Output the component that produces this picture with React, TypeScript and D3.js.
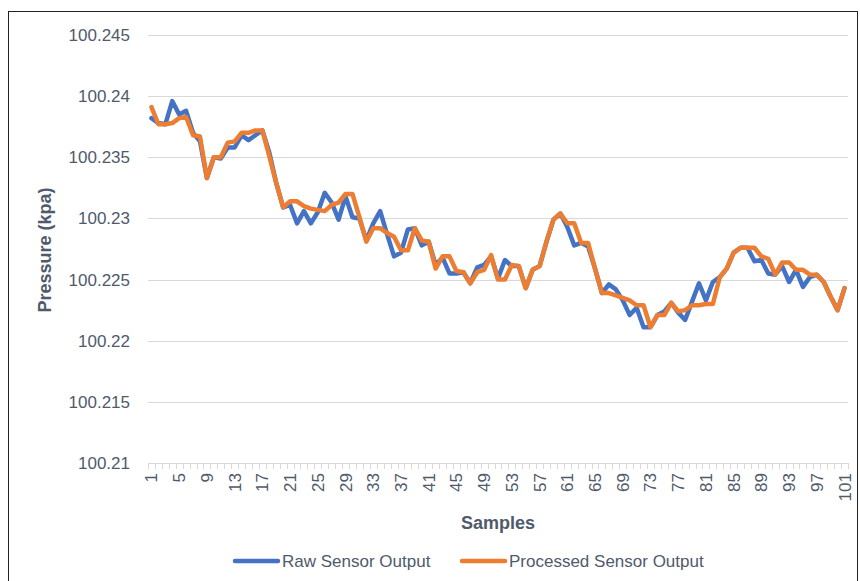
import React, { useRef, useEffect } from "react";
import * as d3 from "d3";

// samples 1..101
const samples: number[] = d3.range(1, 102);

const rawOutput: number[] = [
  100.2382, 100.2378, 100.2377, 100.2396, 100.2385, 100.2388, 100.237, 100.2363, 100.2333, 100.235,
  100.2349, 100.2358, 100.2358, 100.2368, 100.2364, 100.2368, 100.2372, 100.2354, 100.2329, 100.2309,
  100.2311, 100.2296, 100.2306, 100.2296, 100.2305, 100.2321, 100.2313, 100.2299, 100.2318, 100.2301,
  100.23, 100.2282, 100.2296, 100.2306, 100.2287, 100.2269, 100.2272, 100.2291, 100.2292, 100.2278,
  100.2281, 100.2262, 100.2268, 100.2255, 100.2255, 100.2256, 100.2247, 100.226, 100.2262, 100.2269,
  100.2251, 100.2266, 100.2261, 100.2261, 100.2243, 100.2258, 100.2261, 100.2281, 100.2299, 100.2304,
  100.2293, 100.2278, 100.228, 100.2277, 100.2259, 100.2239, 100.2246, 100.2242, 100.2233, 100.2221,
  100.2227, 100.2211, 100.2211, 100.2221, 100.2224, 100.2231, 100.2223, 100.2217, 100.2232, 100.2247,
  100.2233, 100.2248, 100.2252, 100.2259, 100.2272, 100.2276, 100.2276, 100.2265, 100.2266, 100.2255,
  100.2254, 100.2261, 100.2248, 100.2258, 100.2244, 100.2252, 100.2254, 100.2248, 100.2236, 100.2225,
  100.2243,
];

const processedOutput: number[] = [
  100.2391, 100.2377, 100.2377, 100.2378, 100.2382, 100.2383, 100.2368, 100.2367, 100.2333, 100.235,
  100.235, 100.2362, 100.2363, 100.237, 100.237, 100.2372, 100.2372, 100.2351, 100.2329, 100.2309,
  100.2314, 100.2314, 100.231, 100.2308, 100.2307, 100.2306, 100.2311, 100.2313, 100.232, 100.232,
  100.2301, 100.2281, 100.2292, 100.2292, 100.2288, 100.2285, 100.2274, 100.2274, 100.2292, 100.2282,
  100.2281, 100.2259, 100.2269, 100.2269, 100.2257, 100.2256, 100.2247, 100.2256, 100.2258, 100.227,
  100.225, 100.225, 100.2262, 100.2261, 100.2243, 100.2258, 100.2261, 100.2281, 100.2299, 100.2304,
  100.2296, 100.2296, 100.228, 100.228, 100.2259, 100.2239, 100.2239, 100.2237, 100.2235, 100.2233,
  100.2229, 100.2229, 100.2211, 100.2221, 100.2221, 100.2231, 100.2224, 100.2225, 100.2229, 100.2229,
  100.223, 100.223, 100.2252, 100.2259, 100.2272, 100.2276, 100.2276, 100.2276, 100.2269, 100.2267,
  100.2254, 100.2264, 100.2264, 100.2258, 100.2258, 100.2254, 100.2254, 100.2248, 100.2236, 100.2225,
  100.2243,
];

const yTicks: number[] = [100.21, 100.215, 100.22, 100.225, 100.23, 100.235, 100.24, 100.245];
const seriesNames: string[] = ["Raw Sensor Output", "Processed Sensor Output"];
const seriesColors: string[] = ["#4472C4", "#ED7D31"];

const textColor = "#4F5A6C";
const font = "'Liberation Sans', Arial, sans-serif";

const App = () => {
  const ref = useRef<SVGSVGElement | null>(null);

  useEffect(() => {
    if (!ref.current) return;
    const svg = d3.select(ref.current);
    svg.selectAll("*").remove();

    const left = 148;
    const right = 848;
    const top = 35;
    const bottom = 463;

    // 외곽 테두리
    svg
      .append("rect")
      .attr("x", 8.5)
      .attr("y", 11.5)
      .attr("width", 849)
      .attr("height", 600)
      .attr("fill", "#fff")
      .attr("stroke", "#222")
      .attr("stroke-width", 1);

    const x = d3.scalePoint<number>().domain(samples).range([left, right]).padding(0.5);
    const step = x.step();
    const y = d3.scaleLinear().domain([100.21, 100.245]).range([bottom, top]);

    // grid + y labels
    const yAxis = svg.append("g");
    yTicks.forEach((t) => {
      yAxis
        .append("line")
        .attr("x1", left)
        .attr("x2", right)
        .attr("y1", Math.round(y(t)) + 0.5)
        .attr("y2", Math.round(y(t)) + 0.5)
        .attr("stroke", "#D9D9D9")
        .attr("stroke-width", 1);
      yAxis
        .append("text")
        .attr("x", 130)
        .attr("y", y(t))
        .attr("dy", "0.35em")
        .attr("text-anchor", "end")
        .style("font-family", font)
        .style("font-size", "17px")
        .style("fill", textColor)
        .text(String(+t.toFixed(3)));
    });

    // x axis line and tick marks between categories
    svg
      .append("line")
      .attr("x1", left)
      .attr("x2", right)
      .attr("y1", bottom + 0.5)
      .attr("y2", bottom + 0.5)
      .attr("stroke", "#D9D9D9");
    d3.range(samples.length + 1).forEach((i) => {
      const tx = Math.round(left + i * step) + 0.5;
      svg
        .append("line")
        .attr("x1", tx)
        .attr("x2", tx)
        .attr("y1", bottom)
        .attr("y2", bottom + 6)
        .attr("stroke", "#D9D9D9");
    });

    samples
      .filter((s) => (s - 1) % 4 === 0)
      .forEach((s) => {
        svg
          .append("text")
          .attr("transform", `translate(${x(s)! + 6}, 473) rotate(-90)`)
          .attr("text-anchor", "end")
          .style("font-family", font)
          .style("font-size", "17px")
          .style("fill", textColor)
          .text(String(s));
      });

    // axis titles
    svg
      .append("text")
      .attr("x", 498)
      .attr("y", 529)
      .attr("text-anchor", "middle")
      .style("font-family", font)
      .style("font-size", "18px")
      .style("font-weight", "bold")
      .style("fill", textColor)
      .text("Samples");

    svg
      .append("text")
      .attr("transform", `translate(51, ${(top + bottom) / 2 + 1}) rotate(-90)`)
      .attr("text-anchor", "middle")
      .style("font-family", font)
      .style("font-size", "18px")
      .style("font-weight", "bold")
      .style("fill", textColor)
      .text("Pressure (kpa)");

    // lines
    const line = d3
      .line<number>()
      .x((_, i) => x(samples[i])!)
      .y((d) => y(d));

    [rawOutput, processedOutput].forEach((series, k) => {
      svg
        .append("path")
        .datum(series)
        .attr("d", line)
        .attr("fill", "none")
        .attr("stroke", seriesColors[k])
        .attr("stroke-width", 4.5)
        .attr("stroke-linejoin", "round")
        .attr("stroke-linecap", "round");
    });

    // legend
    const legendX = [235, 462];
    seriesNames.forEach((name, k) => {
      svg
        .append("line")
        .attr("x1", legendX[k])
        .attr("x2", legendX[k] + 43)
        .attr("y1", 561)
        .attr("y2", 561)
        .attr("stroke", seriesColors[k])
        .attr("stroke-width", 4.5)
        .attr("stroke-linecap", "round");
      svg
        .append("text")
        .attr("x", legendX[k] + 47)
        .attr("y", 561)
        .attr("dy", "0.35em")
        .style("font-family", font)
        .style("font-size", "17px")
        .style("fill", textColor)
        .text(name);
    });
  }, []);

  return (
    <div style={{ position: "absolute", left: 0, top: 0 }}>
      <svg ref={ref} width={860} height={581} style={{ display: "block" }}></svg>
    </div>
  );
};

export default App;
